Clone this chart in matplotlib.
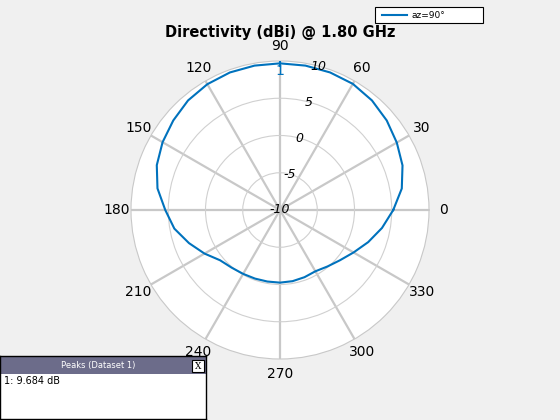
import numpy as np
import matplotlib
matplotlib.use("Agg")
import matplotlib.pyplot as plt
from matplotlib.patches import Rectangle
from matplotlib.lines import Line2D

# ---- data ----
angle_deg = [0, 10, 20, 30, 40, 50, 60, 70, 80, 90, 100, 110, 120, 130, 140, 150, 160, 170,
             180, 190, 200, 210, 220, 230, 240, 250, 260, 270, 280, 290, 300, 310, 320, 330,
             340, 350, 360]
directivity_db = [5.2, 6.6, 7.5, 8.1, 8.7, 9.2, 9.55, 9.65, 9.68, 9.684, 9.68, 9.65, 9.5, 9.2,
                  8.7, 8.2, 7.6, 6.7, 5.4, 4.4, 3.0, 1.7, 0.5, 0.1, -0.1, -0.2, -0.25, -0.25,
                  -0.3, -0.4, -0.5, -0.1, 0.5, 1.4, 2.6, 3.9, 5.2]
theta_ticks = [0, 30, 60, 90, 120, 150, 180, 210, 240, 270, 300, 330]
r_ticks = [-10, -5, 0, 5, 10]
peak_angle = 90
peak_value = 9.684
title = "Directivity (dBi) @ 1.80 GHz"
legend_label = "az=90°"

W, H = 560, 420
fig = plt.figure(figsize=(5.6, 4.2), dpi=100)
fig.patch.set_facecolor("#f0f0f0")

cx, cy, R = 280, 210, 149
ax = fig.add_axes([(cx - R) / W, (H - cy - R) / H, 2 * R / W, 2 * R / H], projection="polar")
ax.set_facecolor("white")
ax.set_ylim(-10, 10)
ax.set_thetagrids(theta_ticks, [str(t) for t in theta_ticks], fontsize=10)
ax.tick_params(axis="x", pad=0)
ax.set_rgrids(r_ticks[1:-1], [""] * (len(r_ticks) - 2))
ax.xaxis.grid(True, color="#c8c8c8", linewidth=1.6)
ax.yaxis.grid(True, color="#d0d0d0", linewidth=0.8)
ax.spines["polar"].set_color("#c8c8c8")
ax.spines["polar"].set_linewidth(0.8)

# radial labels along the 75 degree direction
for v in r_ticks:
    ax.text(np.deg2rad(75), v, str(v), fontsize=9, fontstyle="italic",
            ha="center", va="center", zorder=5)

th = np.deg2rad(angle_deg)
line, = ax.plot(th, directivity_db, color="#0072BD", linewidth=1.5, label=legend_label, zorder=4)

# peak marker
ax.plot([np.deg2rad(peak_angle)], [peak_value], marker="|", markersize=6,
        color="#0072BD", markeredgewidth=1.5, zorder=6)
ax.text(np.deg2rad(peak_angle), peak_value - 1.0, "1", color="#0072BD",
        ha="center", va="center", fontsize=10, zorder=6)

fig.text(cx / W, 1 - 33 / H, title, ha="center", va="center", fontsize=10.5, fontweight="bold")

# legend box (MATLAB style)
lx0, ly0, lx1, ly1 = 375, 7, 483, 23
fig.patches.append(Rectangle((lx0 / W, 1 - ly1 / H), (lx1 - lx0) / W, (ly1 - ly0) / H,
                             transform=fig.transFigure, facecolor="white",
                             edgecolor="black", linewidth=0.8))
fig.lines.append(Line2D([382 / W, 407 / W], [1 - 15 / H, 1 - 15 / H], transform=fig.transFigure,
                        color="#0072BD", linewidth=1.5))
fig.text(412 / W, 1 - 15 / H, legend_label, fontsize=6.5, ha="left", va="center")

# Peaks panel
px0, py0, px1, py1 = 0, 356, 206, 419
pax = fig.add_axes([px0 / W, 1 - py1 / H, (px1 - px0) / W, (py1 - py0) / H])
pax.set_xlim(px0, px1)
pax.set_ylim(py1, py0)
pax.set_xticks([])
pax.set_yticks([])
pax.set_facecolor("white")
for s in pax.spines.values():
    s.set_color("black")
    s.set_linewidth(1)
pax.add_patch(Rectangle((px0, py0), px1 - px0, 18, facecolor="#6c6c8a", edgecolor="none"))
pax.text(98, py0 + 9, "Peaks (Dataset 1)", color="white", fontsize=6, ha="center", va="center")
pax.add_patch(Rectangle((192, py0 + 4), 12, 12, facecolor="white", edgecolor="black", linewidth=0.8))
pax.text(198, py0 + 10, "X", color="black", fontsize=6.5, ha="center", va="center", family="serif")
pax.text(4, py0 + 25, "1: %.3f dB" % peak_value, color="black", fontsize=7, ha="left", va="center")

fig.savefig("out.png", dpi=100, facecolor=fig.get_facecolor())
